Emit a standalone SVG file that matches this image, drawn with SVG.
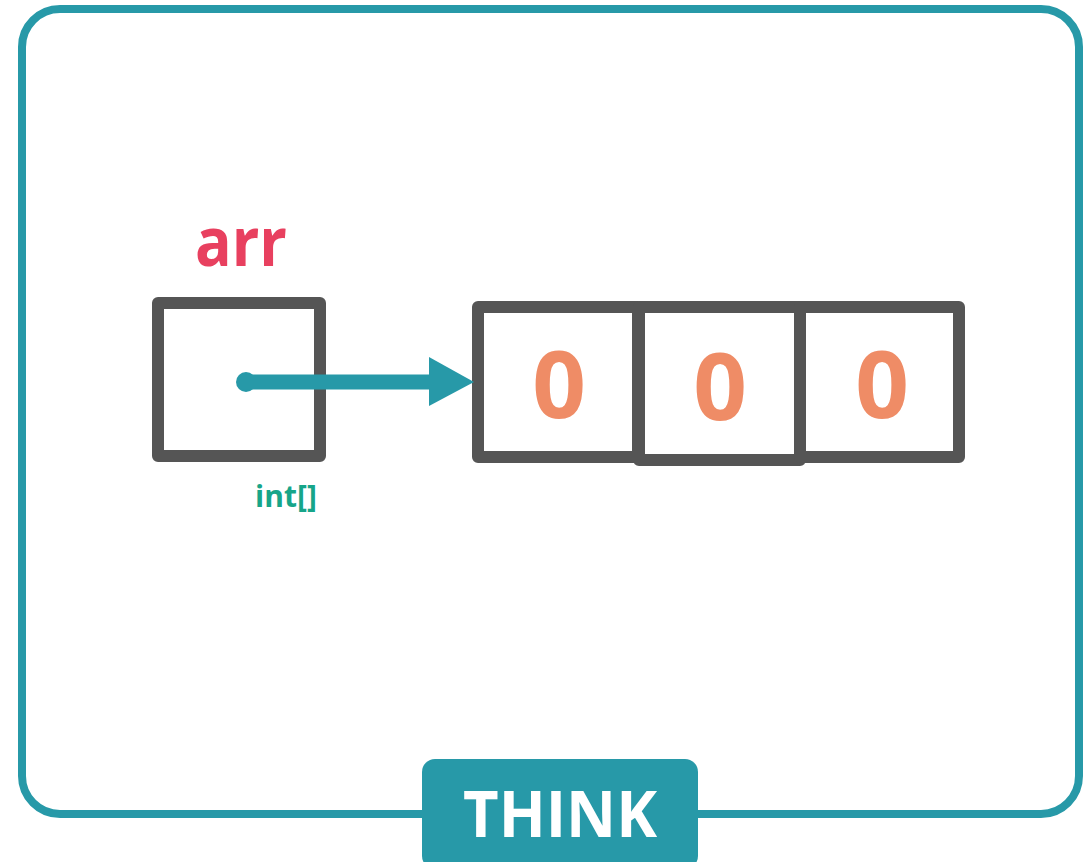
<svg xmlns="http://www.w3.org/2000/svg" width="1091" height="862" viewBox="0 0 1091 862">
<style>
.box{fill:none;stroke:#555555;stroke-width:12;stroke-linejoin:round}
.zero{font-family:"Open Sans","Liberation Sans",sans-serif;font-weight:bold;font-size:94px;fill:#ef8c66;text-anchor:middle}
</style>
<rect width="1091" height="862" fill="#ffffff"/>
<rect id="frame" x="22" y="9" width="1057" height="805" rx="38" fill="none" stroke="#2799a8" stroke-width="8"/>
<g id="think">
<rect x="422" y="759" width="276" height="110" rx="13" fill="#2799a8"/>
<text x="560" y="837" font-family="Open Sans, Liberation Sans, sans-serif" font-weight="bold" font-size="64" fill="#ffffff" text-anchor="middle" textLength="194" lengthAdjust="spacingAndGlyphs">THINK</text>
</g>
<g id="arr">
<text x="241" y="266" font-family="Open Sans, Liberation Sans, sans-serif" font-weight="bold" font-size="68" fill="#e8405f" text-anchor="middle" textLength="92" lengthAdjust="spacingAndGlyphs">arr</text>
<rect class="box" x="158" y="303" width="162" height="153"/>
<text x="286" y="507" font-family="Open Sans, Liberation Sans, sans-serif" font-weight="bold" font-size="30" fill="#17a589" text-anchor="middle">int[]</text>
</g>
<g id="array">
<g id="cell0">
<rect class="box" x="478" y="307" width="160" height="150"/>
<text class="zero" x="559" y="418">0</text>
</g>
<g id="cell1">
<rect class="box" x="639" y="307" width="161" height="153"/>
<text class="zero" x="720" y="420">0</text>
</g>
<g id="cell2">
<rect class="box" x="800" y="307" width="159" height="150"/>
<text class="zero" x="882" y="418">0</text>
</g>
</g>
<g id="connectors">
<circle cx="246" cy="382" r="10" fill="#2799a8"/>
<line x1="246" y1="382" x2="432" y2="382" stroke="#2799a8" stroke-width="15"/>
<polygon points="429,357 474,382 429,406" fill="#2799a8"/>
</g>
</svg>
